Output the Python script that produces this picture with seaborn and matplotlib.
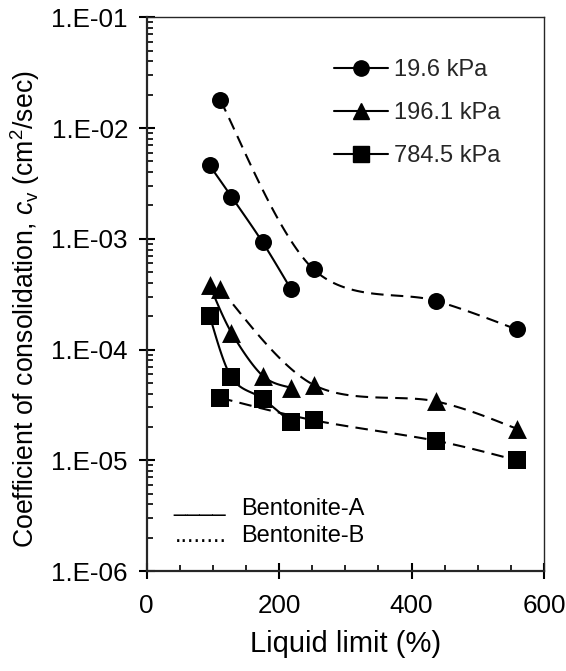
import numpy as np
import matplotlib
matplotlib.use("Agg")
import matplotlib.pyplot as plt
from matplotlib.lines import Line2D
from matplotlib.ticker import FixedLocator, FixedFormatter, LogLocator, NullFormatter, MultipleLocator
import seaborn as sns

# Liquid limits (%) of the two bentonites
ll_a = [95, 128, 175, 218]
ll_b = [111, 252, 437, 559]

# Coefficient of consolidation (cm2/sec) at each consolidation pressure
cv_a_19_6 = [4.6e-3, 2.4e-3, 9.3e-4, 3.5e-4]
cv_a_196_1 = [3.8e-4, 1.42e-4, 5.8e-5, 4.5e-5]
cv_a_784_5 = [2.0e-4, 5.6e-5, 3.6e-5, 2.2e-5]
cv_b_19_6 = [1.78e-2, 5.3e-4, 2.75e-4, 1.52e-4]
cv_b_196_1 = [3.5e-4, 4.8e-5, 3.4e-5, 1.93e-5]
cv_b_784_5 = [3.66e-5, 2.3e-5, 1.5e-5, 1.0e-5]

pressure_labels = ["19.6 kPa", "196.1 kPa", "784.5 kPa"]
bentonite_labels = ["Bentonite-A", "Bentonite-B"]

x_ticks = [0, 200, 400, 600]
y_ticks = [1e-6, 1e-5, 1e-4, 1e-3, 1e-2, 1e-1]
y_tick_labels = ["1.E-06", "1.E-05", "1.E-04", "1.E-03", "1.E-02", "1.E-01"]

sns.set_theme(style="ticks")
plt.rcParams["font.family"] = ["Liberation Sans", "DejaVu Sans"]
plt.rcParams["mathtext.fontset"] = "custom"
plt.rcParams["mathtext.rm"] = "Liberation Sans"
plt.rcParams["mathtext.it"] = "Liberation Sans:italic"

fig = plt.figure(figsize=(5.66, 6.71), dpi=100)
ax = fig.add_axes([0.2592, 0.149, 0.702, 0.8252])
ax.set_yscale("log")
ax.set_xlim(0, 600)
ax.set_ylim(1e-6, 1e-1)


def smooth_curve(ax, x, y, n=40):
    """Bezier smoothing through the points, computed in display space."""
    pts = ax.transData.transform(np.column_stack([x, y]))
    P = np.vstack([pts[0], pts, pts[-1]])
    t = np.linspace(0, 1, n)[:, None]
    parts = []
    for i in range(1, len(P) - 2):
        p0, p1, p2, p3 = P[i - 1], P[i], P[i + 1], P[i + 2]
        c1 = p1 + (p2 - p0) / 6
        c2 = p2 - (p3 - p1) / 6
        seg = ((1 - t) ** 3) * p1 + 3 * ((1 - t) ** 2) * t * c1 \
            + 3 * (1 - t) * (t ** 2) * c2 + (t ** 3) * p2
        parts.append(seg if i == 1 else seg[1:])
    curve = ax.transData.inverted().transform(np.vstack(parts))
    return curve[:, 0], curve[:, 1]


marker_area = {"o": 150, "^": 185, "s": 150}
series = [
    (ll_a, cv_a_19_6, "o", "-"),
    (ll_a, cv_a_196_1, "^", "-"),
    (ll_a, cv_a_784_5, "s", "-"),
    (ll_b, cv_b_19_6, "o", "--"),
    (ll_b, cv_b_196_1, "^", "--"),
    (ll_b, cv_b_784_5, "s", "--"),
]

for x, y, mk, ls in series:
    cx, cy = smooth_curve(ax, x, y)
    sns.lineplot(x=cx, y=cy, sort=False, estimator=None, color="black",
                 lw=1.5, ax=ax, zorder=2)
    ln = ax.lines[-1]
    if ls == "--":
        ln.set_dashes((6, 3.5))
    sns.scatterplot(x=x, y=y, marker=mk, s=marker_area[mk], color="black",
                    linewidth=0, ax=ax, zorder=3)

# Axes styling
for side in ["left", "bottom"]:
    ax.spines[side].set_linewidth(1.6)
for side in ["top", "right"]:
    ax.spines[side].set_linewidth(1.0)
    ax.spines[side].set_visible(True)

ax.xaxis.set_major_locator(FixedLocator(x_ticks))
ax.xaxis.set_minor_locator(MultipleLocator(50))
ax.yaxis.set_major_locator(FixedLocator(y_ticks))
ax.yaxis.set_major_formatter(FixedFormatter(y_tick_labels))
ax.yaxis.set_minor_locator(LogLocator(base=10, subs=np.arange(2, 10)))
ax.yaxis.set_minor_formatter(NullFormatter())

ax.tick_params(axis="both", which="major", direction="inout", length=11,
               width=1.5, labelsize=18.7, color="black", labelcolor="black")
ax.tick_params(axis="x", which="major", pad=11)
ax.tick_params(axis="y", which="major", pad=8)
ax.tick_params(axis="both", which="minor", direction="in", length=4.5,
               width=1.2, color="black")
ax.tick_params(top=False, right=False, which="both")

ax.set_xlabel("Liquid limit (%)", fontsize=21, labelpad=9, color="black")
ax.set_ylabel(r"Coefficient of consolidation, $c_\mathrm{v}$ (cm$^2$/sec)",
              fontsize=19.2, color="black", va="center")
ax.yaxis.set_label_coords(-0.306, 0.473)

# Pressure legend
handles = [Line2D([], [], color="black", lw=1.5, marker=m, markersize=11)
           for m in ["o", "^", "s"]]
ax.legend(handles, pressure_labels, loc="upper left",
          bbox_to_anchor=(0.471, 0.925), frameon=False, fontsize=17,
          handlelength=2.3, handletextpad=0.25, labelspacing=0.9,
          borderpad=0, borderaxespad=0)

# Material key
ax.text(0.067, 0.108, "____", transform=ax.transAxes, fontsize=17,
        color="black", va="baseline")
ax.text(0.237, 0.112, bentonite_labels[0], transform=ax.transAxes,
        fontsize=17, color="black", va="center")
ax.text(0.072, 0.052, "........", transform=ax.transAxes, fontsize=17,
        color="black", va="baseline")
ax.text(0.237, 0.063, bentonite_labels[1], transform=ax.transAxes,
        fontsize=17, color="black", va="center")

fig.savefig("out.png", dpi=100, facecolor="white")
